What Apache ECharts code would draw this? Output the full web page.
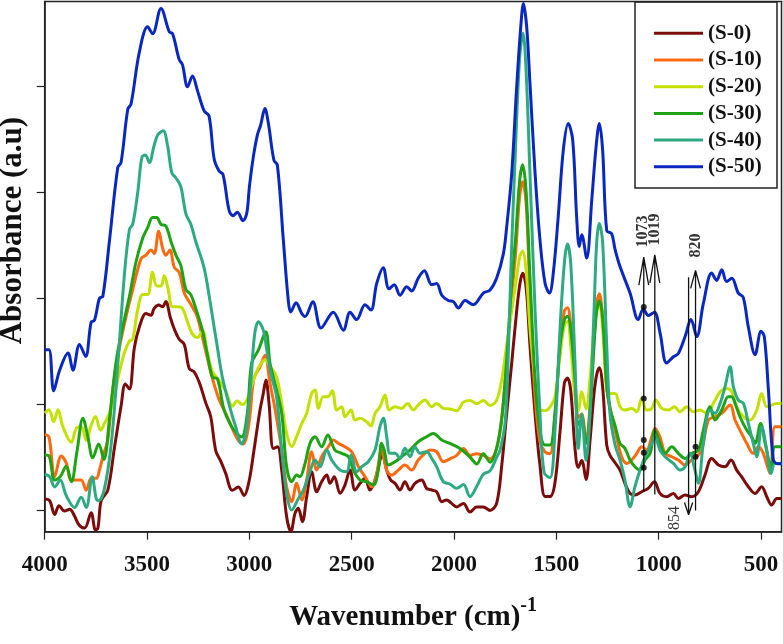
<!DOCTYPE html>
<html>
<head>
<meta charset="utf-8">
<script src="https://cdn.jsdelivr.net/npm/echarts@6/dist/echarts.min.js"></script>
<style>html,body{margin:0;padding:0;background:#fff}#c{width:783px;height:644px}</style>
</head>
<body>
<div id="c"></div>
<script>
// ---- data: [wavenumber (cm-1), absorbance (a.u.)] ----
const seriesNames = ['(S-0)', '(S-10)', '(S-20)', '(S-30)', '(S-40)', '(S-50)'];
const xTickValues = [4000, 3500, 3000, 2500, 2000, 1500, 1000, 500];
const yTickValues = [0.2, 1.2, 2.2, 3.2, 4.2];

const S0 = [[4000,0.309],[3976,0.293],[3951,0.163],[3930,0.244],[3903,0.196],[3878,0.212],[3854,0.147],[3833,0.066],[3805,0.034],[3773,0.179],[3752,0.018],[3740,0.034],[3724,0.293],[3692,0.39],[3659,0.795],[3627,1.183],[3606,1.394],[3586,1.345],[3562,1.734],[3538,1.928],[3505,2.057],[3481,2.041],[3465,2.106],[3443,2.138],[3424,2.122],[3408,2.171],[3387,2.025],[3367,1.912],[3343,1.815],[3318,1.766],[3294,1.539],[3270,1.507],[3245,1.41],[3213,1.215],[3189,1.086],[3164,0.762],[3140,0.665],[3116,0.552],[3083,0.39],[3054,0.422],[3026,0.341],[3002,0.471],[2978,0.762],[2948,1.147],[2932,1.304],[2919,1.43],[2904,1.21],[2883,0.785],[2862,0.801],[2842,0.581],[2818,0.142],[2797,0.0],[2777,0.173],[2761,0.22],[2741,0.094],[2720,0.33],[2696,0.566],[2671,0.377],[2647,0.471],[2622,0.534],[2606,0.456],[2585,0.519],[2557,0.362],[2533,0.44],[2508,0.581],[2484,0.393],[2459,0.456],[2435,0.503],[2411,0.393],[2386,0.487],[2349,0.723],[2329,0.581],[2310,0.487],[2288,0.456],[2264,0.393],[2240,0.471],[2215,0.393],[2191,0.456],[2158,0.487],[2134,0.409],[2109,0.393],[2085,0.377],[2060,0.283],[2036,0.299],[2012,0.267],[1987,0.234],[1954,0.266],[1922,0.185],[1889,0.234],[1857,0.234],[1824,0.201],[1792,0.266],[1767,0.623],[1743,1.109],[1718,1.595],[1694,2.081],[1678,2.34],[1665,2.437],[1648,2.308],[1629,1.757],[1604,1.109],[1580,0.623],[1555,0.331],[1531,0.331],[1507,0.46],[1482,0.947],[1461,1.4],[1446,1.449],[1430,1.336],[1409,0.785],[1393,0.607],[1376,0.671],[1355,0.493],[1336,0.85],[1316,1.303],[1303,1.481],[1290,1.546],[1274,1.368],[1254,0.817],[1238,0.72],[1213,0.65],[1189,0.581],[1165,0.456],[1140,0.361],[1116,0.346],[1083,0.377],[1051,0.409],[1021,0.472],[994,0.361],[961,0.33],[928,0.361],[904,0.314],[871,0.346],[839,0.33],[806,0.377],[774,0.534],[741,0.691],[708,0.629],[676,0.613],[647,0.676],[619,0.581],[595,0.519],[562,0.424],[529,0.361],[497,0.424],[472,0.33],[448,0.251],[423,0.314],[400,0.314]];

const S10 = [[4000,0.918],[3979,0.892],[3951,0.519],[3919,0.714],[3895,0.649],[3870,0.487],[3843,0.487],[3822,0.487],[3797,0.39],[3773,0.503],[3748,0.503],[3732,0.584],[3713,0.73],[3692,0.86],[3667,1.345],[3635,1.734],[3603,2.025],[3570,2.284],[3529,2.575],[3505,2.608],[3481,2.656],[3465,2.624],[3443,2.834],[3424,2.673],[3408,2.608],[3388,2.656],[3367,2.494],[3343,2.446],[3318,2.252],[3294,2.171],[3275,2.106],[3254,2.025],[3229,1.831],[3205,1.636],[3180,1.442],[3148,1.248],[3116,1.118],[3083,0.973],[3054,0.86],[3031,0.827],[3002,1.021],[2978,1.442],[2948,1.555],[2924,1.665],[2899,1.398],[2875,1.163],[2842,0.77],[2818,0.424],[2793,0.283],[2769,0.456],[2744,0.299],[2720,0.487],[2696,0.754],[2671,0.581],[2647,0.707],[2614,0.801],[2590,0.864],[2565,0.833],[2533,0.801],[2500,0.754],[2467,0.613],[2435,0.519],[2402,0.424],[2378,0.55],[2354,0.77],[2329,0.581],[2305,0.534],[2272,0.581],[2240,0.629],[2207,0.581],[2175,0.676],[2142,0.739],[2118,0.77],[2085,0.754],[2052,0.66],[2020,0.687],[1987,0.72],[1954,0.785],[1922,0.72],[1889,0.736],[1857,0.72],[1824,0.687],[1792,0.785],[1765,1.1],[1740,1.7],[1720,2.2],[1700,2.6],[1680,3.15],[1665,3.3],[1648,3.1],[1629,2.243],[1604,1.271],[1580,0.849],[1555,0.752],[1531,0.736],[1507,1.109],[1482,1.757],[1461,2.081],[1446,2.113],[1430,1.951],[1409,1.433],[1393,1.076],[1376,1.109],[1355,0.849],[1336,1.174],[1316,1.822],[1303,2.146],[1290,2.243],[1274,2.016],[1254,1.368],[1238,1.174],[1213,0.95],[1181,0.707],[1156,0.644],[1132,0.676],[1107,0.739],[1083,0.801],[1059,0.77],[1034,0.896],[1018,0.974],[994,0.896],[969,0.739],[936,0.707],[904,0.676],[871,0.629],[839,0.676],[814,0.707],[790,0.77],[757,1.053],[725,1.084],[692,1.116],[651,1.194],[627,1.053],[603,0.958],[570,0.833],[538,0.739],[513,0.801],[489,0.739],[456,0.55],[432,0.99],[400,0.99]];

const S20 = [[4000,1.118],[3979,1.151],[3956,1.037],[3935,1.151],[3911,0.989],[3870,0.843],[3846,0.973],[3822,0.989],[3797,0.86],[3773,1.005],[3752,1.086],[3727,0.957],[3708,1.021],[3684,1.118],[3659,1.28],[3635,1.507],[3611,1.685],[3586,1.798],[3570,1.815],[3546,2.09],[3521,2.236],[3497,2.236],[3473,2.446],[3453,2.317],[3432,2.317],[3416,2.414],[3400,2.317],[3375,2.122],[3351,2.122],[3327,2.106],[3302,1.977],[3278,1.863],[3254,1.831],[3229,1.896],[3205,1.685],[3180,1.507],[3148,1.426],[3116,1.329],[3083,1.183],[3059,1.232],[3034,1.199],[3010,1.25],[2985,1.4],[2955,1.55],[2925,1.62],[2895,1.55],[2867,1.46],[2842,1.21],[2818,0.927],[2793,0.801],[2769,0.896],[2744,1.021],[2720,1.116],[2696,1.304],[2679,1.336],[2663,1.163],[2639,1.273],[2617,1.273],[2595,1.329],[2573,1.147],[2549,1.178],[2533,1.084],[2503,1.147],[2484,1.053],[2459,1.069],[2427,1.037],[2406,0.996],[2386,1.116],[2362,1.178],[2337,1.289],[2318,1.147],[2288,1.178],[2256,1.163],[2227,1.21],[2199,1.147],[2175,1.194],[2142,1.241],[2109,1.178],[2085,1.21],[2052,1.163],[2020,1.157],[1987,1.141],[1954,1.222],[1922,1.238],[1889,1.206],[1857,1.238],[1824,1.19],[1792,1.238],[1767,1.433],[1743,1.757],[1718,2.081],[1694,2.405],[1678,2.6],[1665,2.648],[1648,2.47],[1629,1.919],[1604,1.433],[1580,1.157],[1555,1.141],[1531,1.174],[1507,1.271],[1482,1.66],[1461,1.951],[1446,1.983],[1430,1.757],[1409,1.271],[1393,1.141],[1376,1.319],[1355,1.157],[1336,1.433],[1316,1.919],[1303,2.081],[1290,2.146],[1274,1.919],[1254,1.336],[1238,1.303],[1213,1.304],[1189,1.178],[1165,1.147],[1132,1.163],[1107,1.131],[1083,1.257],[1059,1.147],[1034,1.163],[1015,1.241],[985,1.163],[953,1.147],[923,1.178],[896,1.131],[863,1.178],[831,1.131],[798,1.147],[766,1.116],[733,1.21],[700,1.32],[668,1.351],[643,1.32],[619,1.178],[586,1.084],[554,1.053],[521,1.147],[497,1.304],[472,1.178],[448,1.194],[423,1.21],[400,1.21]];

const S30 = [[4000,0.723],[3979,0.714],[3951,0.487],[3924,0.519],[3895,0.617],[3870,0.471],[3843,0.746],[3813,1.07],[3789,0.892],[3765,0.697],[3736,0.827],[3711,0.681],[3684,1.054],[3651,1.604],[3619,1.928],[3586,2.219],[3554,2.543],[3521,2.77],[3497,2.867],[3473,2.964],[3453,2.964],[3432,2.899],[3408,2.883],[3383,2.737],[3359,2.608],[3335,2.511],[3310,2.284],[3286,2.236],[3262,2.106],[3229,1.896],[3205,1.669],[3180,1.458],[3156,1.442],[3124,1.151],[3091,1.005],[3067,0.94],[3038,0.892],[3010,1.118],[2989,1.587],[2956,1.712],[2920,1.885],[2899,1.587],[2875,1.398],[2842,1.116],[2818,0.613],[2793,0.471],[2769,0.534],[2753,0.519],[2728,0.644],[2704,0.833],[2679,0.896],[2647,0.801],[2617,0.911],[2582,0.77],[2549,0.739],[2516,0.707],[2492,0.581],[2459,0.487],[2427,0.471],[2394,0.44],[2370,0.581],[2354,0.833],[2341,0.77],[2321,0.629],[2288,0.66],[2256,0.707],[2215,0.77],[2175,0.848],[2134,0.896],[2101,0.927],[2060,0.864],[2020,0.833],[1971,0.785],[1922,0.704],[1889,0.639],[1857,0.736],[1824,0.655],[1792,0.785],[1765,1.1],[1740,1.7],[1720,2.3],[1700,2.75],[1680,3.3],[1665,3.46],[1648,3.215],[1629,2.405],[1604,1.433],[1580,0.947],[1555,0.817],[1531,0.817],[1507,1.109],[1482,1.757],[1461,2.0],[1446,2.032],[1430,1.919],[1409,1.433],[1393,1.012],[1376,1.06],[1355,0.833],[1336,1.109],[1316,1.757],[1303,2.081],[1290,2.178],[1274,2.016],[1254,1.368],[1238,1.158],[1213,1.0],[1189,0.833],[1165,0.786],[1140,0.676],[1116,0.613],[1091,0.581],[1067,0.676],[1042,0.739],[1018,0.958],[994,0.833],[969,0.739],[936,0.801],[904,0.739],[871,0.691],[839,0.739],[806,0.77],[782,0.958],[749,1.178],[725,1.053],[692,1.147],[660,1.273],[643,1.273],[627,1.21],[603,1.084],[570,0.958],[546,0.896],[529,0.833],[502,1.021],[480,0.833],[451,0.613],[432,0.801],[400,0.801]];

const S40 = [[4000,0.542],[3976,0.519],[3951,0.422],[3924,0.487],[3895,0.341],[3854,0.228],[3822,0.325],[3797,0.228],[3768,0.519],[3748,0.309],[3736,0.293],[3708,0.406],[3675,0.827],[3643,1.572],[3611,2.414],[3586,2.851],[3570,2.899],[3546,3.191],[3525,3.531],[3508,3.553],[3489,3.482],[3465,3.644],[3448,3.741],[3421,3.78],[3400,3.644],[3379,3.385],[3359,3.336],[3335,3.255],[3310,2.997],[3286,2.899],[3262,2.737],[3229,2.543],[3213,2.414],[3180,2.025],[3156,1.734],[3132,1.458],[3099,1.199],[3067,0.989],[3038,0.827],[3018,0.924],[2994,1.377],[2975,1.85],[2956,1.98],[2932,1.901],[2915,1.713],[2891,1.461],[2867,1.273],[2842,0.77],[2818,0.361],[2793,0.204],[2764,0.299],[2736,0.393],[2704,0.566],[2679,0.676],[2655,0.613],[2622,0.77],[2598,0.676],[2557,0.581],[2525,0.566],[2503,0.723],[2476,0.566],[2451,0.613],[2419,0.66],[2386,0.77],[2362,0.99],[2345,1.069],[2329,0.896],[2313,0.739],[2288,0.739],[2264,0.691],[2240,0.786],[2215,0.707],[2191,0.801],[2166,0.739],[2134,0.754],[2109,0.691],[2085,0.613],[2052,0.471],[2020,0.45],[1987,0.41],[1954,0.444],[1922,0.331],[1889,0.428],[1857,0.542],[1824,0.574],[1792,0.7],[1775,0.77],[1751,1.021],[1738,1.5],[1720,2.6],[1700,3.6],[1680,4.45],[1663,4.7],[1648,4.35],[1629,3.377],[1604,2.081],[1580,1.109],[1560,0.558],[1531,0.509],[1507,0.947],[1482,1.919],[1461,2.534],[1446,2.713],[1430,2.534],[1409,1.595],[1393,0.785],[1376,1.109],[1355,0.671],[1336,1.109],[1316,2.081],[1303,2.729],[1290,2.907],[1274,2.729],[1254,1.757],[1238,1.109],[1213,0.817],[1189,0.676],[1165,0.487],[1140,0.236],[1116,0.424],[1091,0.581],[1067,0.707],[1034,0.833],[1018,0.896],[994,0.77],[969,0.707],[928,0.644],[896,0.581],[871,0.613],[847,0.739],[823,0.581],[806,0.456],[782,0.833],[749,1.147],[725,1.116],[700,1.21],[676,1.367],[651,1.555],[635,1.367],[611,1.241],[586,1.21],[562,1.021],[538,0.833],[521,0.707],[497,0.99],[472,0.77],[451,0.55],[432,0.644],[400,0.644]];

const S50 = [[4000,1.717],[3979,1.717],[3956,1.329],[3927,1.523],[3886,1.685],[3862,1.523],[3830,1.766],[3800,1.653],[3773,1.977],[3757,1.993],[3732,2.203],[3716,2.219],[3684,2.737],[3643,3.434],[3627,3.482],[3594,3.984],[3578,4.033],[3538,4.518],[3497,4.761],[3473,4.696],[3432,4.933],[3391,4.713],[3375,4.696],[3343,4.454],[3327,4.405],[3302,4.195],[3278,4.298],[3254,4.162],[3221,3.968],[3197,3.919],[3172,3.515],[3148,3.401],[3129,3.369],[3099,3.029],[3080,2.98],[3059,3.013],[3031,2.932],[3013,3.0],[3000,3.25],[2981,3.53],[2961,3.74],[2945,3.833],[2924,3.99],[2907,3.849],[2880,3.503],[2863,3.456],[2834,2.749],[2810,2.184],[2798,2.073],[2772,2.158],[2744,2.058],[2728,2.03],[2690,2.168],[2650,1.92],[2590,2.07],[2541,1.9],[2508,2.07],[2476,2.0],[2435,2.14],[2406,2.09],[2378,2.34],[2346,2.49],[2318,2.29],[2292,2.33],[2264,2.23],[2231,2.31],[2207,2.27],[2175,2.39],[2145,2.46],[2109,2.33],[2085,2.34],[2060,2.23],[2028,2.18],[2003,2.17],[1979,2.11],[1946,2.18],[1906,2.14],[1857,2.25],[1824,2.28],[1792,2.39],[1759,2.62],[1743,2.87],[1718,3.38],[1694,4.19],[1674,4.76],[1661,4.98],[1645,4.76],[1629,4.23],[1604,3.38],[1580,2.75],[1555,2.34],[1534,2.25],[1515,2.44],[1491,2.97],[1466,3.6],[1442,3.85],[1420,3.69],[1401,2.97],[1388,2.69],[1376,2.8],[1352,2.58],[1327,3.13],[1306,3.63],[1290,3.85],[1274,3.6],[1254,2.84],[1230,2.81],[1213,2.66],[1189,2.5],[1140,2.25],[1100,2.0],[1075,2.1],[1051,2.04],[1021,2.07],[993,1.87],[961,1.59],[928,1.65],[904,1.68],[871,1.84],[842,2.0],[814,1.84],[782,2.15],[741,2.44],[717,2.37],[692,2.47],[668,2.36],[643,2.39],[611,2.25],[587,2.21],[562,1.93],[529,1.67],[500,1.89],[484,1.84],[464,1.34],[440,0.68],[416,0.64],[400,0.64]];

// ---- band annotations ----
const bandLabels = ['1073', '1019', '854', '820'];
const bandWn = [1073, 1019, 854, 820];
const bandFrom = [0.38, 0.35, 2.40, 0.20];   // arrow tail (absorbance)
const bandTip = [2.59, 2.61, 0.16, 2.465];   // arrow head (absorbance)
const bandLabelWn = [1078, 1017, 919, 817];
const bandLabelAbs = [2.83, 2.85, 0.13, 2.70];
const bandDots = [[1073,2.12],[1073,1.257],[1073,0.864],[1073,0.745],[1073,0.603],[820,0.80],[820,0.707]];

const colors = ['#7B0C0C', '#FF6A10', '#C3E000', '#1EA314', '#2EAA80', '#0A28C0'];
const allData = [S0, S10, S20, S30, S40, S50];

const chart = echarts.init(document.getElementById('c'), null, {renderer: 'canvas'});
const serif = '"Liberation Serif", "Times New Roman", serif';

const series = allData.map((d, i) => ({
  name: seriesNames[i], type: 'line', data: d, showSymbol: false, symbol: 'none',
  smooth: 0.35, color: colors[i], lineStyle: {width: 3, color: colors[i]}, z: 2 + i, silent: true
}));

// arrows
const barb = [{dx: 24, dy: 0.264}, {dx: 24, dy: 0.264}, {dx: 20, dy: 0.115}, {dx: 24, dy: 0.17}];
bandWn.forEach((wn, i) => {
  const up = bandTip[i] > bandFrom[i];
  const s = up ? -1 : 1;
  const b = barb[i];
  series.push({
    type: 'line', data: [[wn, bandFrom[i]], [wn, bandTip[i]], [wn + b.dx, bandTip[i] + s * b.dy], [wn, bandTip[i]], [wn - b.dx, bandTip[i] + s * b.dy]],
    showSymbol: false, symbol: 'none', lineStyle: {width: 1.3, color: '#111'}, z: 20, silent: true
  });
});
series.push({
  type: 'scatter', data: bandDots, symbolSize: 6, itemStyle: {color: '#000'}, z: 21, silent: true
});
series.push({
  type: 'scatter', symbolSize: 0, z: 22, silent: true,
  data: bandLabels.map((t, i) => ({value: [bandLabelWn[i], bandLabelAbs[i]], name: t,
    label: {fontWeight: i === 2 ? 'normal' : 'bold'}})),
  label: {show: true, position: 'inside', rotate: 90, formatter: p => p.name,
    fontFamily: serif, fontSize: 16, color: '#000'}
});

chart.setOption({
  animation: false,
  backgroundColor: '#fff',
  grid: {left: 44.7, right: 1.5, top: 1.5, bottom: 112.3, show: true, borderColor: '#222', borderWidth: 1.5,
    containLabel: false, outerBoundsMode: 'none'},
  legend: {
    data: seriesNames, orient: 'vertical', left: 649, top: 16.3, itemWidth: 49, itemHeight: 14, itemGap: 2.7,
    icon: 'path://M0,6 L49,6 L49,9 L0,9 Z',
    textStyle: {fontFamily: serif, fontWeight: 'bold', fontSize: 21, lineHeight: 24, color: '#111', width: 64, align: 'center'},
    inactiveColor: '#ccc'
  },
  xAxis: {
    type: 'value', inverse: true, min: 400, max: 4000,
    axisLine: {lineStyle: {color: '#222', width: 1.5}},
    axisTick: {show: true, length: 8, lineStyle: {color: '#222', width: 1.2}, customValues: xTickValues},
    axisLabel: {customValues: xTickValues, formatter: v => String(v), fontFamily: serif, fontWeight: 'bold', fontSize: 23, color: '#111', margin: 22},
    splitLine: {show: false},
    name: '{a|Wavenumber (cm)}{s|-1}', nameLocation: 'middle', nameGap: 64,
    nameTextStyle: {rich: {
      a: {fontFamily: serif, fontWeight: 'bold', fontSize: 29, color: '#111'},
      s: {fontFamily: serif, fontWeight: 'bold', fontSize: 20, color: '#111', padding: [0, 0, 24, 0]}
    }}
  },
  yAxis: {
    type: 'value', min: 0, max: 5,
    axisLine: {show: true, lineStyle: {color: '#222', width: 1.5}},
    axisTick: {show: true, length: 8, lineStyle: {color: '#222', width: 1.2}, customValues: yTickValues},
    axisLabel: {show: false},
    splitLine: {show: false},
    name: 'Absorbance (a.u)', nameLocation: 'middle', nameGap: 16,
    nameTextStyle: {fontFamily: serif, fontWeight: 'bold', fontSize: 31, color: '#111', padding: [0, 0, 0, 72]}
  },
  graphic: [{type: 'rect', shape: {x: 635, y: 2, width: 142, height: 186}, style: {fill: 'none', stroke: '#222', lineWidth: 1.5}, z: 100, silent: true}],
  series: series
});
</script>
</body>
</html>
